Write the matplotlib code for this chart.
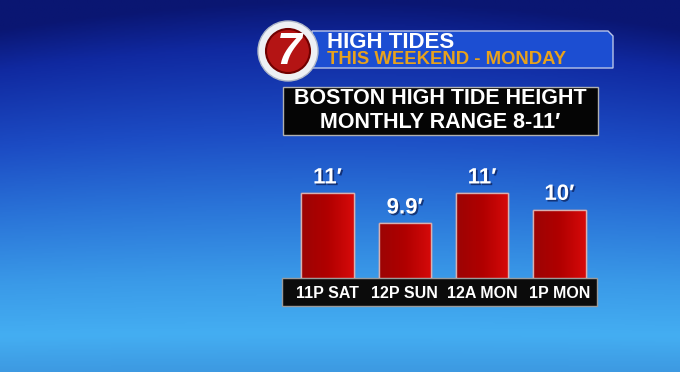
import numpy as np
import matplotlib
matplotlib.use("Agg")
import matplotlib.pyplot as plt
from matplotlib.colors import LinearSegmentedColormap
from matplotlib.patches import Rectangle, Polygon, Circle
import matplotlib.patheffects as pe

# data
times = ["11P SAT", "12P SUN", "12A MON", "1P MON"]
tide_ft = [11.0, 9.9, 11.0, 10.4]
tide_labels = ["11\u2032", "9.9\u2032", "11\u2032", "10\u2032"]

header = "HIGH TIDES"
subheader = "THIS WEEKEND - MONDAY"
title_lines = ["BOSTON HIGH TIDE HEIGHT", "MONTHLY RANGE 8-11\u2032"]

W, H = 680, 372
fig = plt.figure(figsize=(W / 100, H / 100), dpi=100)

BOLD = ["Liberation Sans", "DejaVu Sans"]

# background gradient
bg = fig.add_axes([0, 0, 1, 1], zorder=0)
bg_cmap = LinearSegmentedColormap.from_list("bg", [
    (0.0, "#0a1672"), (0.12, "#1029a0"), (0.35, "#1c4cc4"),
    (0.55, "#2a74d8"), (0.75, "#3a9ae8"), (0.9, "#44aef2"), (1.0, "#3d9ae2")])
yy = np.linspace(0, 1, 200)[:, None]
xx = np.linspace(-1, 1, 300)[None, :]
grad = yy - 0.08 * xx**2 * (1 - yy)
bg.imshow(grad, cmap=bg_cmap, aspect="auto", extent=[0, W, H, 0], vmin=0, vmax=1)
bg.set_xlim(0, W)
bg.set_ylim(H, 0)
bg.axis("off")


def fx(px):
    return px / W


def fy(py):
    return 1 - py / H


# bar chart axes
x0, x1, base, top = 282, 597, 278, 150
ax = fig.add_axes([fx(x0), fy(base), fx(x1) - fx(x0), fy(top) - fy(base)], zorder=1)
ax.patch.set_visible(False)
xpos = np.arange(len(times))
bars = ax.bar(xpos, tide_ft, width=0.68, bottom=0, color="#b00000",
              edgecolor="#d8a8a8", linewidth=1.0, zorder=2)
ax.set_xlim(-0.589, 3.486)
ax.set_ylim(7.9, 12.59)

red_cmap = LinearSegmentedColormap.from_list("red", ["#9c0404", "#b00000", "#d60a0a"])
ramp = np.linspace(0, 1, 64)[None, :]
for b in bars:
    bx, by = b.get_x(), 7.9
    im = ax.imshow(ramp, cmap=red_cmap, aspect="auto", zorder=2.1,
                   extent=[bx, bx + b.get_width(), by, b.get_height()])
    im.set_clip_path(b)
    ax.add_patch(Rectangle((bx, by), b.get_width(), b.get_height() - by, fill=False,
                           edgecolor="#d8b0b0", linewidth=1.0, zorder=2.2))

shadow = [pe.withSimplePatchShadow(offset=(1.2, -1.2), shadow_rgbFace="#0a1a50", alpha=0.7)]
for xi, h, lab in zip(xpos, tide_ft, tide_labels):
    ax.text(xi, h + 0.18, lab, ha="center", va="bottom", color="white",
            fontsize=16, fontweight="bold", family=BOLD, path_effects=shadow, zorder=3)

strip_h = 28 / (base - top)
ax.add_patch(Rectangle((0, -strip_h), 1, strip_h, transform=ax.transAxes, clip_on=False,
                       facecolor="#0b0b0b", edgecolor="#9a9a9a", linewidth=1.0, zorder=1))
ax.set_xticks(xpos)
ax.set_xticklabels(times, color="white", fontsize=11.5, fontweight="bold", family=BOLD)
ax.get_xticklabels()[0].set_x(-0.1)
ax.tick_params(axis="x", length=0, pad=6)
ax.set_yticks([])
for s in ax.spines.values():
    s.set_visible(False)

# overlay: banner, logo, title box
ov = fig.add_axes([0, 0, 1, 1], zorder=2)
ov.set_xlim(0, W)
ov.set_ylim(H, 0)
ov.axis("off")

ov.add_patch(Polygon([(312, 31), (608, 31), (613, 36), (613, 68), (312, 68)],
                     closed=True, facecolor="#1c4ed2", edgecolor="#b8c4e8", linewidth=1.0))
ov.text(327, 43, header, color="white", fontsize=16, fontweight="bold", family=BOLD,
        ha="left", va="center")
ov.text(327, 60, subheader, color="#e8a21c", fontsize=13.3, fontweight="bold", family=BOLD,
        ha="left", va="center")

ov.add_patch(Circle((288, 51), 30, facecolor="#eef0f4", edgecolor="#b0b8c8", linewidth=1.0))
ov.add_patch(Circle((288, 51), 22, facecolor="#b41414", edgecolor="#700000", linewidth=1.5))
ov.text(289, 53, "7", color="white", fontsize=32, fontweight="bold", style="italic",
        family=BOLD, ha="center", va="center")

ov.add_patch(Rectangle((283, 87), 315, 48, facecolor="#050505", edgecolor="#b0b0b0",
                       linewidth=1.0))
for i, line in enumerate(title_lines):
    ov.text(440.5, 99 + 23 * i, line, color="white", fontsize=15.5, fontweight="bold",
            family=BOLD, ha="center", va="center")

fig.savefig("out.png", dpi=100)
